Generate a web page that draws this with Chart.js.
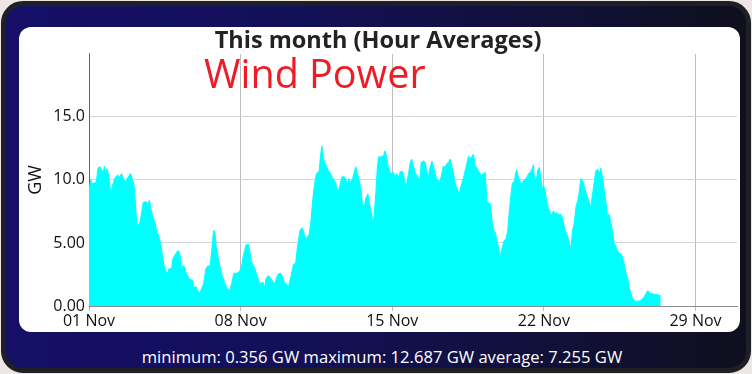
<!DOCTYPE html>
<html>
<head>
<meta charset="utf-8">
<script src="https://cdn.jsdelivr.net/npm/chart.js@4.4.0/dist/chart.umd.min.js"></script>
<style>
  body { margin: 0; background: #ede6e4; font-family: "Open Sans", sans-serif; }
  #frame {
    position: absolute; left: 1px; top: 1px; width: 740px; height: 362px;
    border-radius: 22px; border: 5px solid #1f1f26;
    background: linear-gradient(to right, #150f68 0%, #13105a 35%, #111038 75%, #0f0f1e 100%);
  }
  #panel {
    position: absolute; left: 19px; top: 27px; width: 721px; height: 305px;
    background: #fff; border-radius: 12px; overflow: hidden;
  }
  #wind {
    position: absolute; left: 204px; top: 50px; color: #ee1c25;
    font-size: 39.5px; line-height: 46px; white-space: nowrap;
  }
  #stats {
    position: absolute; left: 6px; top: 345px; width: 752px; text-align: center;
    color: #fff; font-size: 16.6px; white-space: nowrap;
  }
</style>
</head>
<body>
<div id="frame"></div>
<div id="panel"><canvas id="windChart" width="721" height="305"></canvas></div>
<div id="wind">Wind Power</div>
<div id="stats">minimum: 0.356 GW maximum: 12.687 GW average: 7.255 GW</div>
<script>
// hours since 01 Nov 00:00, hour-average wind power (GW)
const hours = [
  0, 2, 3.5, 8, 10, 12, 14, 16, 17, 18, 20, 22, 24, 27, 29, 32, 34, 36, 38, 40,
  43, 46, 48, 50, 51.5, 53, 56, 58, 60, 63, 65, 67, 68.5, 71, 74, 75, 77, 80, 81.5, 84,
  87, 88.5, 91.5, 93, 96, 99, 101, 102.5, 104, 106, 108, 110, 112, 115, 116, 119, 122, 124, 127, 129.5,
  132, 134, 136, 138, 139.5, 141, 144, 147, 150, 153, 156, 158, 160.5, 163.5, 166.5, 169, 171, 174, 176.5, 178,
  180, 184, 186.5, 189.5, 192.5, 195, 196, 198.5, 200.5, 202.5, 206, 208, 210, 212.5, 214, 216.5, 219, 221, 224, 226.5,
  229, 231, 234, 236.5, 238.5, 240.5, 242, 244, 246, 248, 250, 252, 255, 256.5, 258, 259.5, 261.5, 263.5, 265, 267,
  269.5, 272, 273.5, 275.5, 277.5, 280, 282, 284.5, 286.5, 288, 290, 292, 293.5, 295.5, 297.5, 299.5, 301.5, 303, 305, 306.5,
  309, 310.5, 313, 314.5, 316, 318, 319.5, 321, 322.5, 324.5, 326, 328, 330, 331.5, 333.5, 335.5, 337.5, 339, 341, 343,
  344.5, 346.5, 348.5, 350, 352, 354, 356, 357.5, 359.5, 361.5, 363, 365, 367, 368, 370.5, 372.5, 374.5, 376, 378, 380,
  381.5, 383.5, 385.5, 387, 389, 391, 392.5, 394.5, 396.5, 398.5, 400, 402, 404, 405.5, 407.5, 409.5, 411, 413, 415, 417,
  418.5, 420.5, 422.5, 424, 426, 428, 429.5, 431.5, 433.5, 435, 437, 439, 441, 442.5, 444.5, 446.5, 448, 450, 452, 453.5,
  455.5, 456.5, 458, 460, 462, 464, 466, 468, 469, 471.5, 473, 474, 476, 478, 479.5, 481.5, 483.5, 485, 487, 489,
  490.5, 492.5, 493.5, 495.5, 497.5, 499, 500.5, 502, 503.5, 505.5, 507.5, 509, 511, 513, 514.5, 516.5, 518.5, 520.5, 522, 524,
  526, 527.5, 529.5, 531.5, 533, 534.5, 536, 537.5, 539.5, 541.5, 543, 545, 547, 548.5, 550.5, 552.5, 554.5, 556, 558, 560,
  561.5, 563.5, 565.5, 567, 569, 571, 573, 574.5, 576.5, 578.5, 580, 582, 584, 585.5, 587.5, 589.5, 591, 593, 595, 597,
  598.5, 600.5, 602.5, 604, 606, 608, 609.5, 611.5, 613.5, 615.5, 617, 619, 621, 622.5, 624.5, 626.5, 628, 630, 632, 633.5
];
const gw = [
  9.2, 10.0, 9.7, 9.8, 10.95, 11.05, 10.8, 10.6, 11.1, 10.6, 10.9, 10.3, 9.0, 9.8, 10.2, 10.4, 10.2, 10.5, 10.15, 9.8,
  10.2, 10.5, 10.1, 9.55, 8.1, 6.4, 6.5, 7.2, 8.2, 8.3, 8.1, 8.4, 7.7, 7.0, 6.4, 5.7, 5.7, 4.7, 3.9, 2.95,
  2.55, 2.95, 2.95, 3.75, 4.15, 4.4, 4.0, 2.95, 3.2, 3.1, 2.55, 2.3, 2.1, 2.05, 1.5, 1.5, 0.98, 1.25, 1.77, 2.95,
  3.2, 3.1, 4.4, 6.0, 5.9, 4.7, 3.5, 2.55, 1.9, 1.37, 1.25, 1.77, 2.6, 2.6, 2.7, 3.1, 4.0, 4.85, 4.9, 4.4,
  3.5, 2.95, 2.3, 1.77, 1.9, 1.5, 2.15, 2.4, 2.3, 2.05, 1.77, 2.3, 2.55, 2.6, 2.4, 1.9, 1.7, 1.55, 2.4, 3.3,
  3.4, 4.7, 6.05, 6.2, 5.7, 5.25, 5.5, 5.7, 6.8, 8.5, 9.7, 10.5, 10.7, 11.9, 12.687, 11.8, 11.3, 11.05, 10.7, 10.6,
  10.2, 9.95, 9.7, 9.0, 9.4, 10.2, 10.3, 10.1, 9.55, 10.1, 9.8, 10.1, 10.5, 11.05, 10.5, 9.95, 9.15, 8.1, 7.8, 8.5,
  8.9, 8.2, 7.4, 6.5, 7.2, 9.15, 11.0, 11.85, 11.8, 11.9, 11.85, 12.3, 11.8, 11.0, 10.6, 10.5, 10.6, 10.2, 10.5, 10.15,
  10.6, 10.7, 10.5, 9.7, 9.7, 10.5, 11.4, 11.65, 11.1, 10.6, 10.35, 10.1, 10.1, 11.4, 11.5, 11.4, 10.6, 10.2, 11.0, 11.5,
  11.1, 10.5, 10.0, 9.95, 9.9, 10.5, 11.1, 11.0, 11.3, 11.4, 11.65, 11.1, 10.5, 9.8, 9.4, 9.0, 9.15, 9.7, 10.2, 10.8,
  11.25, 11.9, 11.65, 11.85, 12.05, 11.1, 11.0, 10.7, 10.5, 10.35, 10.5, 10.6, 8.2, 8.2, 8.1, 6.8, 6.1, 5.85, 5.2, 4.7,
  3.9, 3.9, 4.7, 5.2, 5.3, 6.0, 7.8, 9.15, 9.7, 9.95, 10.6, 10.8, 10.2, 9.8, 9.7, 9.95, 10.1, 10.2, 10.5, 10.6,
  10.8, 11.2, 10.2, 9.95, 10.85, 11.0, 10.2, 9.3, 9.55, 9.15, 8.1, 7.8, 7.4, 7.2, 7.55, 7.3, 7.4, 7.2, 7.3, 7.1,
  6.5, 6.0, 5.7, 5.2, 4.55, 4.95, 6.1, 6.4, 7.85, 8.35, 8.9, 10.1, 9.95, 9.55, 9.0, 8.6, 8.2, 7.8, 8.9, 9.95,
  10.7, 10.85, 10.5, 10.95, 10.2, 9.15, 8.1, 7.05, 7.3, 6.5, 6.0, 4.95, 4.7, 4.4, 4.15, 4.15, 3.9, 3.35, 2.55, 2.15,
  1.5, 0.98, 0.58, 0.45, 0.356, 0.4, 0.38, 0.45, 0.58, 0.77, 0.98, 1.2, 1.1, 1.0, 0.98, 0.92, 0.92, 0.9, 0.85, 0.8
];

const dayTicks = [0, 168, 336, 504, 672];
const dayLabels = ['01 Nov', '08 Nov', '15 Nov', '22 Nov', '29 Nov'];
const gwTicks = [0, 5, 10, 15];
const gwLabels = ['0.00', '5.00', '10.0', '15.0'];

const ctx = document.getElementById('windChart').getContext('2d');
new Chart(ctx, {
  type: 'line',
  data: {
    datasets: [{
      data: hours.map((h, i) => ({ x: h, y: gw[i] })),
      fill: 'origin',
      backgroundColor: '#00ffff',
      borderColor: '#00ffff',
      borderWidth: 1,
      pointRadius: 0,
      tension: 0
    }]
  },
  options: {
    responsive: false,
    animation: false,
    layout: { padding: { left: 0, right: 3, top: 0, bottom: 0 } },
    plugins: {
      legend: { display: false },
      tooltip: { enabled: false },
      title: {
        display: true,
        text: 'This month (Hour Averages)',
        color: '#222',
        font: { family: 'Open Sans', size: 23.5, weight: 'bold', lineHeight: 1.1 },
        padding: { top: 1, bottom: 0 }
      }
    },
    scales: {
      x: {
        type: 'linear',
        min: 0,
        max: 718,
        afterBuildTicks: scale => { scale.ticks = dayTicks.map(v => ({ value: v })); },
        afterFit: scale => { scale.height = 26; },
        ticks: {
          callback: v => dayLabels[dayTicks.indexOf(v)],
          color: '#111',
          font: { family: 'Open Sans', size: 16 },
          padding: 1,
          maxRotation: 0
        },
        grid: { color: '#bdbdbd', tickLength: 5 },
        border: { color: '#8a8a8a' }
      },
      y: {
        min: 0,
        max: 20,
        afterBuildTicks: scale => { scale.ticks = gwTicks.map(v => ({ value: v })); },
        afterFit: scale => { scale.width = 70; },
        ticks: {
          callback: v => gwLabels[gwTicks.indexOf(v)],
          color: '#111',
          font: { family: 'Open Sans', size: 16 },
          padding: 4
        },
        grid: { color: '#d4d4d4', drawTicks: false },
        border: { color: '#666' },
        title: {
          display: true,
          text: 'GW',
          color: '#111',
          font: { family: 'Open Sans', size: 18 },
          padding: { top: 6, bottom: 0 }
        }
      }
    }
  }
});
</script>
</body>
</html>
